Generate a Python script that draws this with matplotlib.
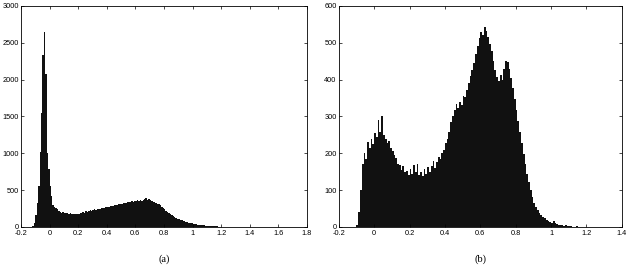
#!/usr/bin/env python3

import numpy as np
import matplotlib
matplotlib.use("Agg")
import matplotlib.pyplot as plt
from matplotlib.ticker import FormatStrFormatter

# histogram (a): bins of width 0.01 starting at -0.12
bin_width = 0.01
start_a = -0.12
counts_a = [
    10, 60, 160, 320, 560, 1020, 1550, 2330, 2650, 2080,
    1010, 780, 560, 420, 300, 270, 260, 240, 210, 205,
    195, 200, 190, 185, 195, 180, 185, 175, 180, 170,
    178, 182, 175, 185, 190, 200, 195, 210, 205, 215,
    225, 220, 235, 240, 232, 245, 250, 245, 258, 262,
    255, 270, 275, 268, 282, 290, 285, 298, 300, 295,
    310, 318, 312, 325, 330, 322, 338, 342, 335, 350,
    345, 355, 348, 360, 352, 365, 358, 370, 375, 392,
    370, 378, 360, 355, 345, 338, 330, 318, 305, 295,
    270, 255, 240, 222, 205, 188, 172, 158, 145, 132,
    122, 112, 104, 96, 88, 82, 75, 69, 63, 58,
    52, 48, 44, 40, 36, 33, 30, 27, 25, 22,
    20, 18, 16, 14, 13, 11, 10, 9, 8, 7,
    6, 5, 5, 4, 3, 3, 2, 2, 1,
]

# histogram (b): bins of width 0.01 starting at -0.10
start_b = -0.10
counts_b = [
    5, 40, 100, 170, 200, 185, 230, 215, 240, 225,
    255, 245, 290, 258, 302, 250, 240, 228, 232, 215,
    205, 195, 188, 172, 168, 155, 165, 148, 152, 140,
    158, 145, 168, 150, 170, 140, 148, 138, 158, 145,
    162, 150, 165, 180, 160, 175, 190, 185, 200, 210,
    228, 240, 258, 285, 300, 318, 335, 322, 338, 332,
    355, 352, 372, 390, 410, 425, 445, 470, 490, 512,
    528, 520, 542, 532, 515, 498, 478, 450, 425, 408,
    395, 412, 398, 430, 450, 448, 430, 405, 378, 348,
    318, 288, 258, 228, 198, 170, 145, 122, 100, 82,
    66, 55, 45, 38, 32, 28, 24, 20, 17, 14,
    12, 15, 10, 8, 6, 5, 4, 3, 4, 2,
    2, 2, 1, 1, 2, 1, 1,
]

xticks_a = [-0.2, 0, 0.2, 0.4, 0.6, 0.8, 1, 1.2, 1.4, 1.6, 1.8]
yticks_a = [0, 500, 1000, 1500, 2000, 2500, 3000]
xticks_b = [-0.2, 0, 0.2, 0.4, 0.6, 0.8, 1, 1.2, 1.4]
yticks_b = [0, 100, 200, 300, 400, 500, 600]


def draw_hist(ax, start, counts, xticks, yticks, label):
    edges = start + bin_width * np.arange(len(counts) + 1)
    ax.stairs(counts, edges, fill=True, color="#111111", linewidth=0)
    ax.set_xlim(xticks[0], xticks[-1])
    ax.set_ylim(yticks[0], yticks[-1])
    ax.set_xticks(xticks)
    ax.set_yticks(yticks)
    ax.xaxis.set_major_formatter(FormatStrFormatter("%g"))
    ax.tick_params(direction="in", length=2.2, width=0.5, labelsize=5.3,
                   pad=1.5, top=True, right=True)
    ax.tick_params(axis="x", pad=2.4)
    for s in ax.spines.values():
        s.set_linewidth(0.6)
    # caption under the panel, placed in figure coordinates
    pos = ax.get_position()
    fig.text(pos.x0 + pos.width / 2, 0.03, label, ha="center", va="center",
             fontsize=7.5, family="Liberation Serif")


plt.rcParams["font.family"] = ["Liberation Sans", "DejaVu Sans"]
fig = plt.figure(figsize=(6.32, 2.67), dpi=100)
ax_a = fig.add_axes([0.0332, 0.150, 0.4525, 0.8277])
ax_b = fig.add_axes([0.536, 0.150, 0.448, 0.8277])

draw_hist(ax_a, start_a, counts_a, xticks_a, yticks_a, "(a)")
draw_hist(ax_b, start_b, counts_b, xticks_b, yticks_b, "(b)")

fig.savefig("out.png", dpi=100)
